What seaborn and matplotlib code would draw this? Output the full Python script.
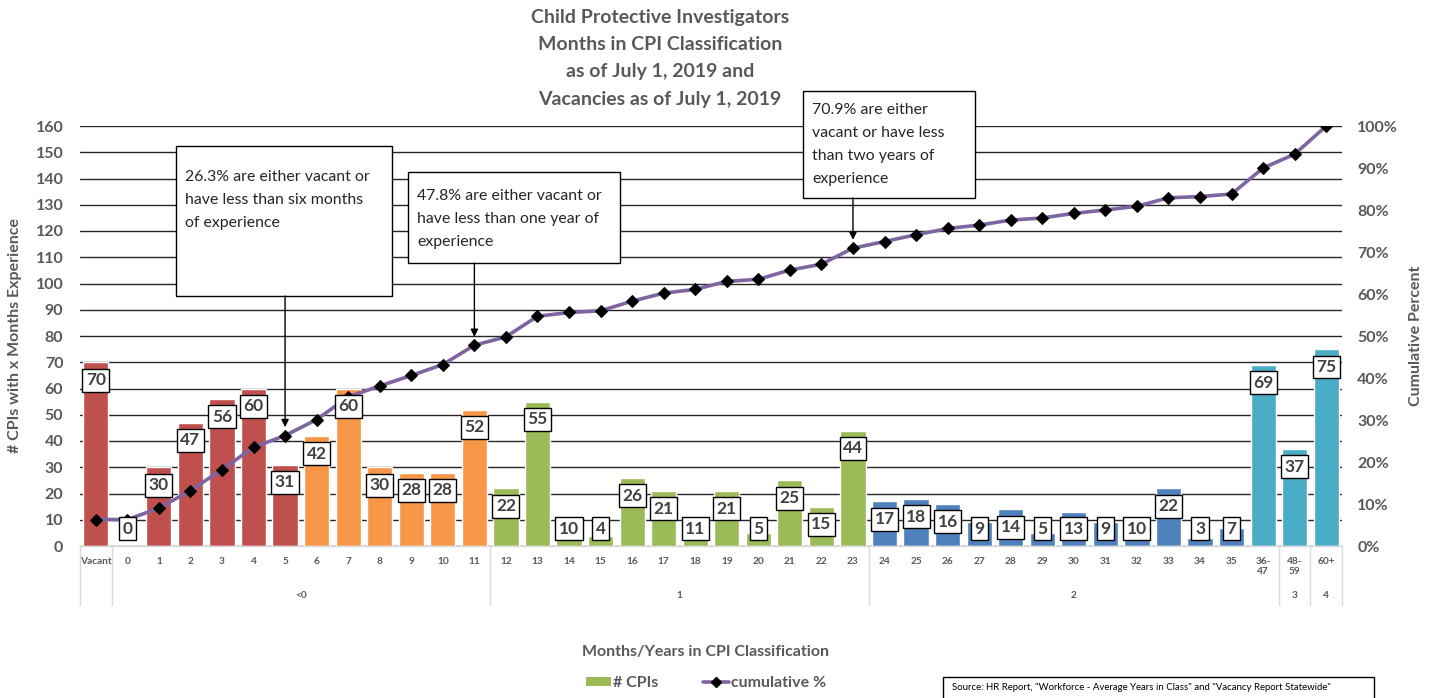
import numpy as np
import pandas as pd
import matplotlib
matplotlib.use("Agg")
import matplotlib.pyplot as plt
from matplotlib.patches import Rectangle, Patch
from matplotlib.lines import Line2D
import seaborn as sns

# ---- data -----------------------------------------------------------------
categories = (["Vacant"] + [str(m) for m in range(36)]
              + ["36-\n47", "48-\n59", "60+"])
cpi_counts = [70, 0, 30, 47, 56, 60, 31,
              42, 60, 30, 28, 28, 52,
              22, 55, 10, 4, 26, 21, 11, 21, 5, 25, 15, 44,
              17, 18, 16, 9, 14, 5, 13, 9, 10, 22, 3, 7,
              69, 37, 75]
cumulative_pct = [6.3, 6.3, 9.0, 13.2, 18.2, 23.5, 26.3,
                  30.1, 35.5, 38.1, 40.6, 43.2, 47.8,
                  49.8, 54.7, 55.6, 56.0, 58.3, 60.2, 61.1, 63.0, 63.5, 65.7, 67.1, 70.9,
                  72.5, 74.1, 75.6, 76.4, 77.6, 78.1, 79.2, 80.0, 80.9, 82.9, 83.2, 83.8,
                  90.0, 93.3, 100.0]
bands = (["under 6 months"] * 7 + ["6-11 months"] * 6 + ["1 year"] * 12
         + ["2 years"] * 12 + ["3+ years"] * 3)
band_palette = {"under 6 months": "#C0504D", "6-11 months": "#F79646",
                "1 year": "#9BBB59", "2 years": "#4F81BD", "3+ years": "#4BACC6"}
# year groups shown on the second row of the category axis: (label, first, last)
year_groups = [("", 0, 0), ("<0", 1, 12), ("1", 13, 24), ("2", 25, 37),
               ("3", 38, 38), ("4", 39, 39)]
left_ticks = list(range(0, 161, 10))
right_ticks = [t / 100 for t in range(0, 101, 10)]
notes = [
    ("26.3% are either vacant or\nhave less than six months\nof experience", 6, 26.3),
    ("47.8% are either vacant or\nhave less than one year of\nexperience", 12, 47.8),
    ("70.9% are either\nvacant or have less\nthan two years of\nexperience", 24, 70.9),
]
source_text = ('Source: HR Report, "Workforce - Average Years in Class" and '
               '"Vacancy Report Statewide"')

# ---- style ----------------------------------------------------------------
sns.set_theme(style="white")
plt.rcParams["font.family"] = ["Lato", "DejaVu Sans"]
GRAY = "#595959"
TXT = "#262626"

W, H = 1432, 698
fig = plt.figure(figsize=(W / 100, H / 100), dpi=100)
L, R, B, T = 80, 1342, 546, 126
PX = (B - T) / 160.0          # pixels per left-axis unit
ax = fig.add_axes([L / W, 1 - B / H, (R - L) / W, (B - T) / H])

df = pd.DataFrame({"category": categories, "cpis": cpi_counts, "band": bands})
sns.barplot(data=df, x="category", y="cpis", hue="band", palette=band_palette,
            dodge=False, width=0.8, saturation=1, legend=False, ax=ax, zorder=2)

n = len(categories)
ax.set_xlim(-0.5, n - 0.5)
ax.set_ylim(0, 160)
ax.set_yticks(left_ticks)
ax.set_yticklabels([str(t) for t in left_ticks], fontsize=11.5,
                   fontweight="bold", color=GRAY)
ax.yaxis.grid(True, color="#262626", lw=1.0)
ax.set_axisbelow(True)
for s in ["top", "right", "left"]:
    ax.spines[s].set_visible(False)
ax.spines["bottom"].set_color("#d9d9d9")
ax.spines["bottom"].set_linewidth(1.0)
ax.tick_params(axis="y", length=0, pad=12)
ax.set_xticks(range(n))
ax.set_xticklabels(categories, fontsize=7.3, fontweight="bold", color=GRAY,
                   linespacing=1.1)
ax.tick_params(axis="x", length=0, pad=8)
ax.set_xlabel("")
ax.set_ylabel("# CPIs with x Months Experience", fontsize=11.5, fontweight="bold",
              color=GRAY, labelpad=10)

# second row of category axis with separators
trans = ax.get_xaxis_transform()
sep_bottom = -(605 - B) / (B - T)
for label, first, last in year_groups:
    ax.text((first + last) / 2, -(595 - B) / (B - T), label, transform=trans,
            ha="center", va="center", fontsize=7.3, fontweight="bold", color=GRAY)
for xb in [-0.5, 0.5, 12.5, 24.5, 37.5, 38.5, 39.5]:
    ax.plot([xb, xb], [0, sep_bottom], transform=trans, color="#d9d9d9",
            lw=1.0, clip_on=False)

# cumulative percent line on the secondary axis
ax2 = ax.twinx()
sns.lineplot(x=np.arange(n), y=np.array(cumulative_pct) / 100, ax=ax2,
             color="#8064A2", lw=2.6, marker="D", markersize=6,
             markerfacecolor="black", markeredgecolor="black", zorder=3)
ax2.set_ylim(0, 1)
ax2.set_xlim(-0.5, n - 0.5)
ax2.set_yticks(right_ticks)
ax2.set_yticklabels([f"{int(round(t * 100))}%" for t in right_ticks],
                    fontsize=11.5, fontweight="bold", color=GRAY)
ax2.tick_params(axis="y", length=0, pad=11)
for s in ax2.spines.values():
    s.set_visible(False)
ax2.grid(False)
ax2.set_ylabel("Cumulative Percent", fontsize=11.5, fontweight="bold",
               color=GRAY, labelpad=8)

# value boxes on the bars (drawn above the line)
for i, v in enumerate(cpi_counts):
    yc = max(v - 6.8, 6.5)
    ax2.text(i, yc, str(v), transform=ax.transData, ha="center", va="center",
             fontsize=12.5, fontweight="bold", color="#404040", zorder=5,
             bbox=dict(boxstyle="square,pad=0.2", fc="white", ec="black", lw=1))

# call-out boxes with arrows: box extents and first text line, in axis units
boxes = [(2.54, 9.39, 95.2, 152.4, 140.6), (9.90, 16.62, 107.8, 142.5, 133.3),
         (22.42, 27.87, 132.6, 173.3, 166.1)]
LINE_STEP = 23 / PX
for (text, xi, pct), (x0, x1, y0, y1, yfirst) in zip(notes, boxes):
    ax2.add_patch(Rectangle((x0, y0), x1 - x0, y1 - y0, transform=ax.transData,
                            fc="white", ec="black", lw=1, clip_on=False, zorder=6))
    for k, line in enumerate(text.split("\n")):
        ax2.text(x0 + 0.28, yfirst - k * LINE_STEP, line, transform=ax.transData,
                 ha="left", va="center", fontsize=11.4, color=TXT, zorder=7)
    ax2.annotate("", xy=(xi, pct * 1.6 + 3.2), xytext=(xi, y0),
                 xycoords=ax.transData, textcoords=ax.transData,
                 arrowprops=dict(arrowstyle="-|>", color="black", lw=1,
                                 mutation_scale=11, shrinkA=0, shrinkB=0),
                 zorder=6, annotation_clip=False)

# title
title_lines = ["Child Protective Investigators", "Months in CPI Classification",
               "as of July 1, 2019 and", "Vacancies as of July 1, 2019"]
for k, line in enumerate(title_lines):
    fig.text(660 / W, 1 - (18 + 27 * k) / H, line, ha="center", va="center",
             fontsize=14, fontweight="bold", color=GRAY)

# axis title and legend at the bottom
fig.text(705 / W, 1 - 652 / H, "Months/Years in CPI Classification",
         ha="center", va="center", fontsize=11.5, fontweight="bold", color=GRAY)
handles = [Patch(facecolor="#9BBB59", edgecolor="none", label="# CPIs"),
           Line2D([0], [0], color="#8064A2", lw=2.6, marker="D", markersize=5,
                  markerfacecolor="black", markeredgecolor="black",
                  label="cumulative %")]
leg = fig.legend(handles=handles, loc="center", ncol=2,
                 bbox_to_anchor=(706 / W, 1 - 683 / H), frameon=False,
                 fontsize=11.5, handlelength=1.6, handleheight=0.5,
                 handletextpad=0.15, columnspacing=2.8)
for t in leg.get_texts():
    t.set_fontweight("bold")
    t.set_color(GRAY)

# source note
fig.add_artist(Rectangle((943 / W, -0.01), (1374 - 943) / W, (0.01 + 1 - 677 / H),
                         transform=fig.transFigure, fc="white", ec="black",
                         lw=1, clip_on=False))
fig.text(952 / W, 1 - 688 / H, source_text, ha="left", va="center",
         fontsize=6.9, color="#000000")

fig.savefig("out.png", dpi=100)
